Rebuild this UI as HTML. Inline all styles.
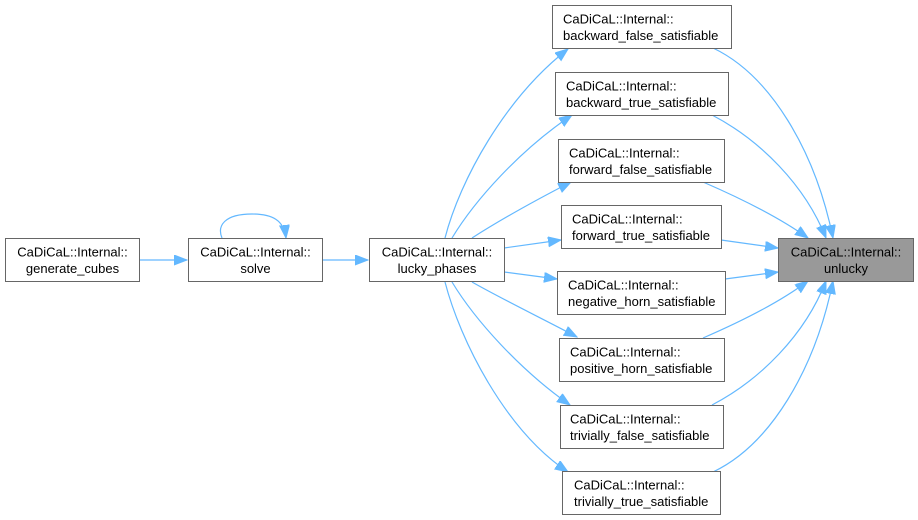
<!DOCTYPE html>
<html><head><meta charset="utf-8"><style>
html,body{margin:0;padding:0;background:#fff;}
svg{display:block;}
text{font-family:"Liberation Sans",Arial,sans-serif;font-size:13px;fill:#000;}
</style></head><body>
<svg width="918" height="520" viewBox="0 0 918 520" xmlns="http://www.w3.org/2000/svg">
<defs>
<marker id="a" markerUnits="userSpaceOnUse" markerWidth="14" markerHeight="11" refX="13" refY="5" orient="auto">
<path d="M0,0 L13,5 L0,10 z" fill="#63b8ff" stroke="#63b8ff" stroke-width="1"/>
</marker>
</defs>
<g fill="none" stroke="#63b8ff" stroke-width="1.2" marker-end="url(#a)">
<path d="M139,260 L187,260"/>
<path d="M322,260 L368,260"/>
<path d="M222,238 C217,226 224,214 252,214 C272,214 284,220 286,238"/>
<!-- lucky -> middle -->
<path d="M445,238 C460,180 505,98 568,49"/>
<path d="M452,238 C475,200 520,150 572,115"/>
<path d="M472,238 C500,220 540,198 571,182"/>
<path d="M504,248 L561,240"/>
<path d="M504,272 L557,279"/>
<path d="M472,282 C500,298 545,320 577,337"/>
<path d="M452,282 C475,320 520,370 570,405"/>
<path d="M445,282 C460,340 505,430 568,472"/>
<!-- middle -> unlucky -->
<path d="M713,48 C770,75 815,150 833,238"/>
<path d="M712,115 C760,140 805,185 826,238"/>
<path d="M703,182 C740,198 780,218 808,238"/>
<path d="M721,240 L778,248"/>
<path d="M725,279 L778,272"/>
<path d="M703,338 C740,322 780,302 808,281"/>
<path d="M712,405 C760,380 805,335 826,281"/>
<path d="M713,472 C770,445 815,370 833,281"/>
</g>
<g stroke="#666" stroke-width="1" fill="#fff">
<rect x="5.5" y="238.5" width="134" height="43"/>
<rect x="188.5" y="238.5" width="134" height="43"/>
<rect x="369.5" y="238.5" width="135" height="43"/>
<rect x="552.5" y="5.5" width="179" height="43"/>
<rect x="555.5" y="72.5" width="173" height="43"/>
<rect x="558.5" y="139.5" width="166" height="43"/>
<rect x="561.5" y="205.5" width="160" height="43"/>
<rect x="557.5" y="271.5" width="168" height="43"/>
<rect x="559.5" y="338.5" width="165" height="43"/>
<rect x="560.5" y="405.5" width="163" height="43"/>
<rect x="562.5" y="471.5" width="158" height="43"/>
<rect x="778.5" y="238.5" width="135" height="43" fill="#999"/>
</g>
<g text-anchor="middle">
<text x="72.5" y="256.5">CaDiCaL::Internal::</text>
<text x="72.5" y="273">generate_cubes</text>
<text x="255.5" y="256.5">CaDiCaL::Internal::</text>
<text x="255.5" y="273">solve</text>
<text x="437" y="256.5">CaDiCaL::Internal::</text>
<text x="437" y="273">lucky_phases</text>
<text x="846" y="256.5">CaDiCaL::Internal::</text>
<text x="846" y="273">unlucky</text>
</g>
<g>
<text x="563" y="23.5">CaDiCaL::Internal::</text>
<text x="563" y="40">backward_false_satisfiable</text>
<text x="566" y="90.5">CaDiCaL::Internal::</text>
<text x="566" y="107">backward_true_satisfiable</text>
<text x="569" y="157.5">CaDiCaL::Internal::</text>
<text x="569" y="174">forward_false_satisfiable</text>
<text x="572" y="223.5">CaDiCaL::Internal::</text>
<text x="572" y="240">forward_true_satisfiable</text>
<text x="568" y="289.5">CaDiCaL::Internal::</text>
<text x="568" y="306">negative_horn_satisfiable</text>
<text x="570" y="356.5">CaDiCaL::Internal::</text>
<text x="570" y="373">positive_horn_satisfiable</text>
<text x="570" y="423.5">CaDiCaL::Internal::</text>
<text x="570" y="440">trivially_false_satisfiable</text>
<text x="574" y="489.5">CaDiCaL::Internal::</text>
<text x="574" y="506">trivially_true_satisfiable</text>
</g>
</svg>
</body></html>
